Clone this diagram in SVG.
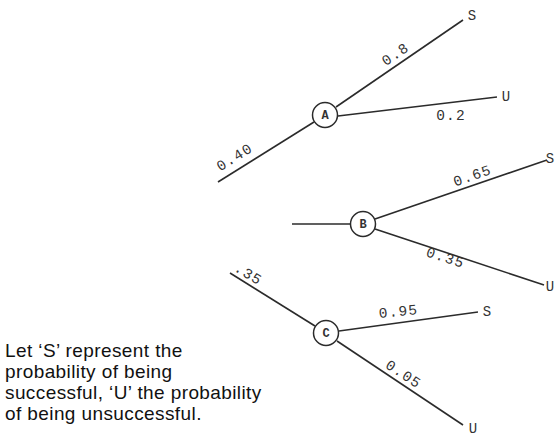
<svg xmlns="http://www.w3.org/2000/svg" width="556" height="437" viewBox="0 0 556 437">
<style>
.ln{stroke:#2b2b2b;stroke-width:1.6;fill:none}
.nd{fill:#fff;stroke:#2b2b2b;stroke-width:1.5}
.nl{font-family:"Liberation Mono",monospace;font-size:12px;font-weight:bold;fill:#333;text-anchor:middle}
.pl{font-family:"Liberation Mono",monospace;font-size:14.5px;fill:#333;text-anchor:middle;letter-spacing:1.2px}
.el{font-family:"Liberation Mono",monospace;font-size:14px;fill:#333;text-anchor:middle}
.tx{font-family:"Liberation Sans",Arial,sans-serif;font-size:19px;fill:#111;letter-spacing:0.4px}
</style>
<rect width="556" height="437" fill="#fff"/>
<g id="connectors">
<line class="ln" x1="218" y1="182" x2="314" y2="122"/>
<line class="ln" x1="336" y1="107" x2="463" y2="20"/>
<line class="ln" x1="338" y1="116" x2="497" y2="97"/>
<line class="ln" x1="292" y1="224" x2="351" y2="224"/>
<line class="ln" x1="375" y1="219" x2="547" y2="160"/>
<line class="ln" x1="375" y1="229" x2="544" y2="285"/>
<line class="ln" x1="230" y1="273" x2="315" y2="326"/>
<line class="ln" x1="339" y1="331" x2="478" y2="312"/>
<line class="ln" x1="337" y1="341" x2="463" y2="425"/>
</g>
<g id="labels">
<text class="pl" transform="translate(237,161) rotate(-32)">0.40</text>
<text class="pl" transform="translate(398,58) rotate(-34)">0.8</text>
<text class="pl" x="451" y="120">0.2</text>
<text class="pl" transform="translate(474,180) rotate(-19)">0.65</text>
<text class="pl" transform="translate(444,262) rotate(18)">0.35</text>
<text class="pl" transform="translate(246,278) rotate(31)">.35</text>
<text class="pl" transform="translate(399,316) rotate(-6)">0.95</text>
<text class="pl" transform="translate(401,378) rotate(33)">0.05</text>
<text class="el" x="472" y="20">S</text>
<text class="el" x="506" y="101">U</text>
<text class="el" x="550" y="163">S</text>
<text class="el" x="550" y="291">U</text>
<text class="el" x="487" y="316">S</text>
<text class="el" x="473" y="433">U</text>
</g>
<g id="node-A"><circle class="nd" cx="325" cy="115" r="12.5"/><text class="nl" x="325" y="119">A</text></g>
<g id="node-B"><circle class="nd" cx="363" cy="224" r="12.5"/><text class="nl" x="363" y="228">B</text></g>
<g id="node-C"><circle class="nd" cx="326" cy="333" r="12.5"/><text class="nl" x="326" y="337">C</text></g>
<g id="note">
<text class="tx" x="5" y="357">Let ‘S’ represent the</text>
<text class="tx" x="5" y="378">probability of being</text>
<text class="tx" x="5" y="399">successful, ‘U’ the probability</text>
<text class="tx" x="5" y="420">of being unsuccessful.</text>
</g>
</svg>
